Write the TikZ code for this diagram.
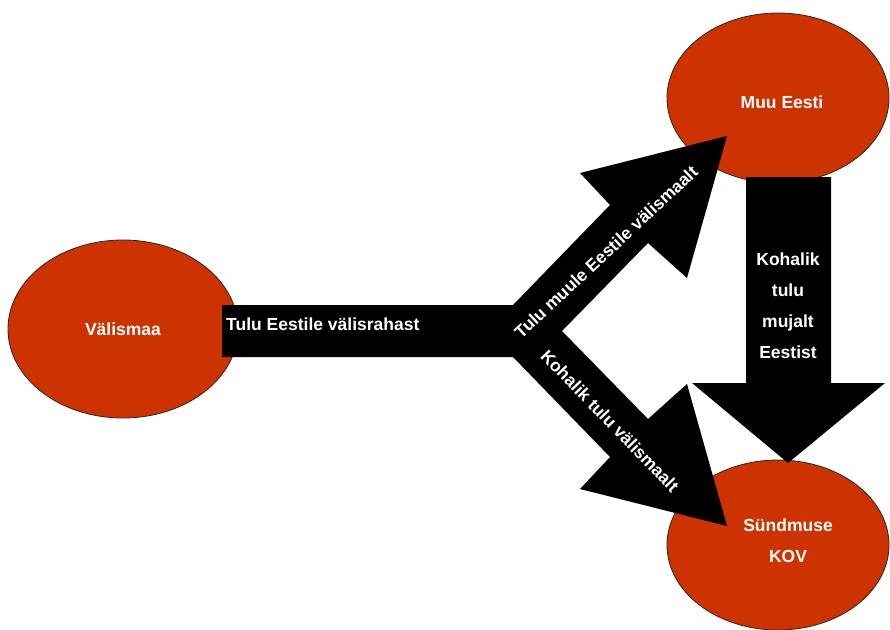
\documentclass[tikz,border=0pt]{standalone}
\usepackage{fontspec}
\setmainfont{Liberation Sans}
\usetikzlibrary{shapes.geometric}
\definecolor{discfill}{HTML}{CC3300}
\begin{document}
\begin{tikzpicture}[x=1pt,y=-1pt,
  disc/.style={ellipse, draw=black!85, line width=0.8pt, fill=discfill, inner sep=0pt},
  lbl/.style={text=white, font=\bfseries\fontsize{17.5}{31}\selectfont, inner sep=0pt},
  block/.style={fill=black, draw=none}]
\useasboundingbox (0,0) rectangle (890,629);

% regions
\node[disc, minimum width=230pt, minimum height=178pt] (vm) at (123,329) {};
\node[disc, minimum width=222pt, minimum height=170pt] (me) at (778,98) {};
\node[disc, minimum width=222pt, minimum height=170pt] (kov) at (778,545) {};

% forked flow from abroad
\coordinate (fkstart) at (222,331);
\fill[block] (222,305) -- (513,305) -- (610,205) -- (580,173) -- (727,136)
  -- (687,278) -- (648,243) -- (562,331) -- (648,419) -- (687,384)
  -- (727,526) -- (580,489) -- (610,457) -- (513,357) -- (222,357) -- cycle;

% flow from the rest of Estonia
\fill[block] (746,177) -- (831,177) -- (831,383) -- (885,383) -- (788,463)
  -- (692,383) -- (746,383) -- cycle;

% texts
\node[lbl] at (vm.center) {Välismaa};
\node[lbl] at ([shift={(4,4)}]me.center) {Muu Eesti};
\node[lbl, align=center] at ([shift={(10,-4)}]kov.center) {Sündmuse\\KOV};
\node[lbl, anchor=west] at (226,324) {Tulu Eestile välisrahast};
\node[lbl, rotate=43] at (606,252) {Tulu muule Eestile välismaalt};
\node[lbl, rotate=-46] at (610,421) {Kohalik tulu välismaalt};
\node[lbl, align=center] at (788,306) {Kohalik\\tulu\\mujalt\\Eestist};
\end{tikzpicture}
\end{document}
